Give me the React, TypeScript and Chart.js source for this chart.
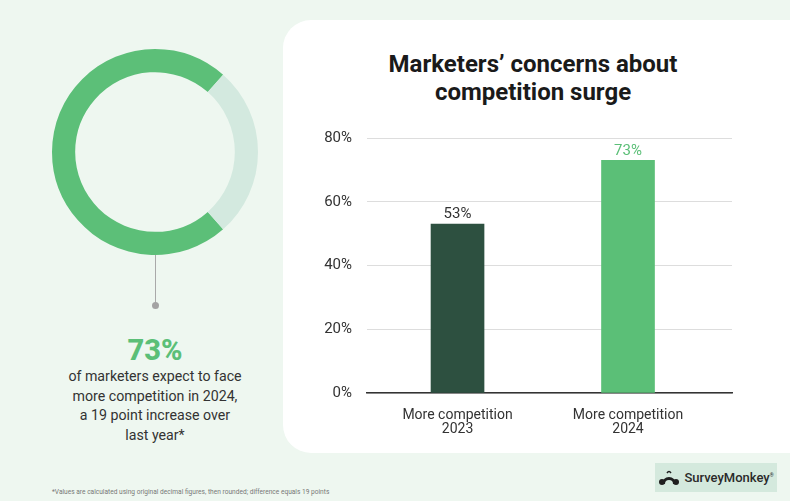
import React, { useEffect, useRef } from "react";
import { Chart, registerables } from "chart.js";

Chart.register(...registerables);

// ---- data ----
const categories: string[][] = [["More competition", "2023"], ["More competition", "2024"]];
const values: number[] = [53, 73];
const barColors: string[] = ["#2d5040", "#5bbf77"];
const valueLabelColors: string[] = ["#333333", "#5bbf77"];
const yTicks: number[] = [0, 20, 40, 60, 80];
const donutValues: number[] = [73, 27];
const donutColors: string[] = ["#5cbf78", "#d3e9df"];

const FONT = "Roboto, 'Noto Sans', sans-serif";

function Donut() {
  const ref = useRef<HTMLCanvasElement | null>(null);
  useEffect(() => {
    if (!ref.current) return;
    const chart = new Chart(ref.current, {
      type: "doughnut",
      data: {
        labels: ["Expect more competition", "Other"],
        datasets: [{ data: donutValues, backgroundColor: donutColors, borderWidth: 0 }],
      },
      options: {
        responsive: false,
        animation: false,
        rotation: 138.6,
        cutout: "77.5%",
        plugins: { legend: { display: false }, tooltip: { enabled: false } },
        layout: { padding: 0 },
      },
    });
    return () => chart.destroy();
  }, []);
  return (
    <canvas
      ref={ref}
      width={206}
      height={206}
      style={{ position: "absolute", left: 52, top: 49, width: 206, height: 206 }}
    />
  );
}

function Bars() {
  const ref = useRef<HTMLCanvasElement | null>(null);
  useEffect(() => {
    if (!ref.current) return;
    const valueLabels = {
      id: "valueLabels",
      afterDatasetsDraw(chart: any) {
        const ctx = chart.ctx;
        const meta = chart.getDatasetMeta(0);
        ctx.save();
        ctx.font = `400 15px ${FONT}`;
        ctx.textAlign = "center";
        ctx.textBaseline = "bottom";
        meta.data.forEach((bar: any, i: number) => {
          ctx.fillStyle = valueLabelColors[i];
          ctx.fillText(values[i] + "%", bar.x, bar.y - 2);
        });
        ctx.restore();
      },
    };
    const chart = new Chart(ref.current, {
      type: "bar",
      data: {
        datasets: [
          {
            label: "Share of marketers",
            data: values.map((v, i) => ({ x: i, y: v })),
            backgroundColor: barColors,
            borderWidth: 0,
            barThickness: 53,
          },
        ],
      },
      options: {
        responsive: false,
        animation: false,
        layout: { padding: { top: 0, right: 18, left: 0, bottom: 0 } },
        plugins: { legend: { display: false }, tooltip: { enabled: false } },
        scales: {
          x: {
            type: "linear",
            offset: false,
            min: -0.531,
            max: 1.61,
            grid: { display: false, offset: false },
            border: { display: true, color: "#333333", width: 1.5 },
            afterBuildTicks: (axis: any) => {
              axis.ticks = categories.map((_, i) => ({ value: i }));
            },
            afterFit: (axis: any) => {
              axis.height = 57;
            },
            ticks: {
              padding: 7,
              color: "#333333",
              font: { family: FONT, size: 14, lineHeight: 1.0 },
              maxRotation: 0,
              autoSkip: false,
              callback: (v: any) => categories[Math.round(Number(v))] ?? "",
            },
          },
          y: {
            min: 0,
            max: 80,
            grid: { color: "#dddddd", lineWidth: 1, drawTicks: false },
            border: { display: false },
            afterBuildTicks: (axis: any) => {
              axis.ticks = yTicks.map((v) => ({ value: v }));
            },
            afterFit: (axis: any) => {
              axis.width = 67;
            },
            ticks: {
              padding: 15,
              color: "#333333",
              font: { family: FONT, size: 15 },
              callback: (v: any) => v + "%",
            },
          },
        },
      },
      plugins: [valueLabels],
    });
    return () => chart.destroy();
  }, []);
  return (
    <canvas
      ref={ref}
      width={450}
      height={336}
      style={{ position: "absolute", left: 300, top: 114, width: 450, height: 336 }}
    />
  );
}

export default function App() {
  const bodyLines = [
    "of marketers expect to face",
    "more competition in 2024,",
    "a 19 point increase over",
    "last year*",
  ];
  return (
    <div
      style={{
        position: "fixed",
        left: 0,
        top: 0,
        width: 790,
        height: 501,
        background: "#eef7f0",
        overflow: "hidden",
        fontFamily: FONT,
      }}
    >
      {/* white panel */}
      <div
        style={{
          position: "absolute",
          left: 283,
          top: 20,
          width: 600,
          height: 433,
          background: "#ffffff",
          borderRadius: 28,
        }}
      />
      <Donut />
      {/* connector */}
      <div style={{ position: "absolute", left: 154.5, top: 255, width: 1.5, height: 48, background: "#a9a9a9" }} />
      <div
        style={{
          position: "absolute",
          left: 152,
          top: 302,
          width: 7,
          height: 7,
          borderRadius: "50%",
          background: "#a3a3a3",
        }}
      />
      {/* left text */}
      <div
        style={{
          position: "absolute",
          left: 55,
          width: 200,
          top: 333,
          textAlign: "center",
          color: "#5bbf77",
          fontWeight: 800,
          fontSize: 29,
          lineHeight: "34px",
        }}
      >
        73%
      </div>
      <div
        style={{
          position: "absolute",
          left: 35,
          width: 240,
          top: 367,
          textAlign: "center",
          color: "#333333",
          fontSize: 14.2,
          lineHeight: "19.7px",
        }}
      >
        {bodyLines.map((l, i) => (
          <div key={i}>{l}</div>
        ))}
      </div>
      {/* title */}
      <div
        style={{
          position: "absolute",
          left: 283,
          width: 500,
          top: 50,
          textAlign: "center",
          color: "#1a1a1a",
          fontWeight: 700,
          fontSize: 24,
          lineHeight: "28px",
        }}
      >
        <div>Marketers’ concerns about</div>
        <div>competition surge</div>
      </div>
      <Bars />
      {/* footnote */}
      <div
        style={{
          position: "absolute",
          left: 52,
          top: 488,
          fontSize: 6.6,
          color: "#777777",
          whiteSpace: "nowrap",
        }}
      >
        *Values are calculated using original decimal figures, then rounded; difference equals 19 points
      </div>
      {/* logo */}
      <div
        style={{
          position: "absolute",
          left: 655,
          top: 463,
          width: 122,
          height: 29,
          background: "#d4e9dd",
          display: "flex",
          alignItems: "center",
          justifyContent: "center",
          gap: 4,
        }}
      >
        <svg width="22" height="16" viewBox="0 0 22 16">
          <path d="M4 14 A7 7 0 0 1 18 14 L15 14 A4 4 0 0 0 7 14 Z" fill="#1f1f1f" />
          <circle cx="4" cy="12" r="3" fill="#1f1f1f" />
          <circle cx="18" cy="12" r="3" fill="#1f1f1f" />
          <path d="M9 3 Q11 0 13 3" stroke="#1f1f1f" strokeWidth="1.5" fill="none" />
        </svg>
        <span style={{ fontSize: 13, color: "#2a2a2a", fontWeight: 500 }}>
          SurveyMonkey<sup style={{ fontSize: 5 }}>®</sup>
        </span>
      </div>
    </div>
  );
}
